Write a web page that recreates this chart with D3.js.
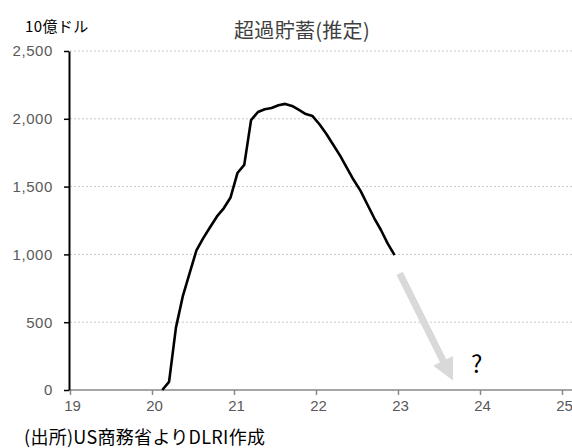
<!DOCTYPE html>
<html>
<head>
<meta charset="utf-8">
<script src="https://cdn.jsdelivr.net/npm/d3@7"></script>
<style>
  body { margin: 0; background: #fff; }
  svg { display: block; font-family: "Noto Sans CJK JP", "Noto Sans", sans-serif; }
</style>
</head>
<body>
<div id="chart"></div>
<script>
const WIDTH = 572;
const HEIGHT = 448;
const MARGIN = { top: 51, right: 10, bottom: 58, left: 69 };

// monthly estimates, Feb 2020 – Dec 2022 (x = year + (month - 0.5) / 12, 2-digit years)
const months = [
  20.125, 20.208, 20.292, 20.375, 20.458, 20.542, 20.625, 20.708, 20.792, 20.875, 20.958,
  21.042, 21.125, 21.208, 21.292, 21.375, 21.458, 21.542, 21.625, 21.708, 21.792, 21.875, 21.958,
  22.042, 22.125, 22.208, 22.292, 22.375, 22.458, 22.542, 22.625, 22.708, 22.792, 22.875, 22.958
];
const excessSavings = [
  0, 60, 460, 690, 860, 1030, 1120, 1200, 1280, 1340, 1420,
  1600, 1660, 1990, 2050, 2070, 2080, 2100, 2110, 2095, 2065, 2035, 2020,
  1960, 1890, 1810, 1730, 1640, 1550, 1470, 1370, 1270, 1180, 1080, 995
];
const xTicks = [19, 20, 21, 22, 23, 24, 25];
const yTicks = [0, 500, 1000, 1500, 2000, 2500];
const arrowFrom = [23.02, 860];
const arrowTo = [23.67, 70];
const questionAt = [23.96, 205];

const svg = d3.select("#chart").append("svg")
  .attr("width", WIDTH)
  .attr("height", HEIGHT);

const x = d3.scaleLinear().domain([19, 25]).range([MARGIN.left + 1, MARGIN.left + 1 + 82 * 6]);
const y = d3.scaleLinear().domain([0, 2500]).range([HEIGHT - MARGIN.bottom, MARGIN.top]);

// gridlines
svg.append("g")
  .selectAll("line")
  .data(yTicks.filter(d => d > 0))
  .join("line")
  .attr("x1", x(19))
  .attr("x2", WIDTH)
  .attr("y1", d => y(d))
  .attr("y2", d => y(d))
  .attr("stroke", "#c8c8c8")
  .attr("stroke-width", 1)
  .attr("stroke-dasharray", "2,2");

// x axis
const xAxis = svg.append("g")
  .attr("transform", `translate(0,${y(0)})`)
  .call(d3.axisBottom(x).tickValues(xTicks).tickSize(5).tickSizeOuter(0).tickFormat(d3.format("d")));
xAxis.select(".domain").attr("stroke", "#888").attr("stroke-width", 1.5).attr("d", `M${x(19)},0H${WIDTH}`);
xAxis.selectAll(".tick line").attr("stroke", "#888").attr("stroke-width", 1.5);
xAxis.selectAll(".tick text")
  .attr("fill", "#595959")
  .attr("font-size", 15)
  .attr("x", 2)
  .attr("dy", "0.85em")
  .style("font-family", "inherit");

// y axis
const yAxis = svg.append("g")
  .attr("transform", `translate(${x(19) - 1},0)`)
  .call(d3.axisLeft(y).tickValues(yTicks).tickSize(5).tickSizeOuter(0).tickFormat(d3.format(",")));
yAxis.select(".domain").attr("stroke", "#000").attr("stroke-width", 2);
yAxis.selectAll(".tick line").attr("stroke", "#000").attr("stroke-width", 1.5);
yAxis.selectAll(".tick text")
  .attr("fill", "#595959")
  .attr("font-size", 15)
  .attr("letter-spacing", 0.6)
  .attr("x", -16)
  .style("font-family", "inherit");

// series
const line = d3.line()
  .x((d, i) => x(months[i]))
  .y(d => y(d));

svg.append("path")
  .datum(excessSavings)
  .attr("fill", "none")
  .attr("stroke", "#000")
  .attr("stroke-width", 2.6)
  .attr("stroke-linejoin", "round")
  .attr("d", line);

// gray arrow
const ax0 = x(arrowFrom[0]), ay0 = y(arrowFrom[1]);
const ax1 = x(arrowTo[0]), ay1 = y(arrowTo[1]);
const ang = Math.atan2(ay1 - ay0, ax1 - ax0);
const headLen = 22, headHalf = 11, shaftHalf = 3.5;
const len = Math.hypot(ax1 - ax0, ay1 - ay0);
const arrowPts = [
  [0, -shaftHalf], [len - headLen, -shaftHalf], [len - headLen, -headHalf],
  [len, 0], [len - headLen, headHalf], [len - headLen, shaftHalf], [0, shaftHalf]
];
svg.append("polygon")
  .attr("points", arrowPts.map(p => p.join(",")).join(" "))
  .attr("transform", `translate(${ax0},${ay0}) rotate(${ang * 180 / Math.PI})`)
  .attr("fill", "#d9d9d9");

svg.append("text")
  .attr("x", x(questionAt[0]))
  .attr("y", y(questionAt[1]))
  .attr("text-anchor", "middle")
  .attr("dominant-baseline", "central")
  .attr("font-size", 24)
  .attr("fill", "#000")
  .text("?");

// titles
svg.append("text")
  .attr("x", 302)
  .attr("y", 38)
  .attr("text-anchor", "middle")
  .attr("font-size", 20)
  .attr("letter-spacing", 0.3)
  .attr("fill", "#404040")
  .text("超過貯蓄(推定)");

svg.append("text")
  .attr("x", 25)
  .attr("y", 32)
  .attr("font-size", 15)
  .attr("letter-spacing", 0.4)
  .attr("fill", "#000")
  .text("10億ドル");

svg.append("text")
  .attr("x", 24)
  .attr("y", 444)
  .attr("font-size", 18)
  .attr("letter-spacing", 0.3)
  .attr("fill", "#000")
  .text("(出所)US商務省よりDLRI作成");
</script>
</body>
</html>
